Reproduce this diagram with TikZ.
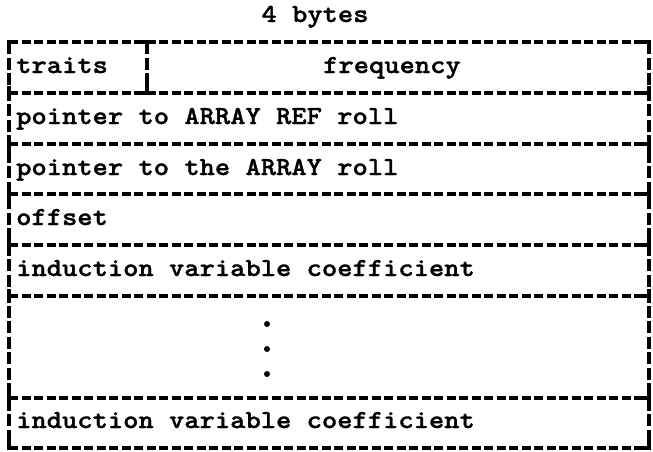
\documentclass[tikz,border=0pt]{standalone}
\usepackage{fontspec}
\newfontfamily\courfont{lmmonolt10-bold.otf}[FakeBold=1.2, FakeStretch=1.12]
\newcommand{\tw}[1]{{\courfont\fontsize{26}{28}\selectfont #1}}
\begin{document}
\begin{tikzpicture}[x=1pt,y=-1pt,
  rule/.style={line width=3.1pt, dash pattern=on 9pt off 3.5pt},
  vrule/.style={line width=3.1pt, dash pattern=on 12pt off 3.5pt},
  tick/.style={line width=3.3pt, solid},
  lbl/.style={inner sep=0pt, anchor=base west}]
\useasboundingbox (0,0) rectangle (653,451);
% horizontal rules
\foreach \y in {42,93,144,194,245,296,398,448}
  \draw[rule] (9,\y) -- (649,\y);
% vertical rules
\draw[vrule] (9,42) -- (9,448);
\draw[vrule] (649,42) -- (649,448);
\draw[vrule] (147,42) -- (147,93);
% junction ticks
\foreach \y in {93,144,194,245,296,398} {
  \draw[tick] (9,\y-7) -- (9,\y+7);
  \draw[tick] (9,\y) -- (17,\y);
  \draw[tick] (649,\y-7) -- (649,\y+7);
  \draw[tick] (641,\y) -- (649,\y);
}
\draw[tick] (9,52) -- (9,42) -- (18,42);
\draw[tick] (640,42) -- (649,42) -- (649,52);
\draw[tick] (9,438) -- (9,448) -- (18,448);
\draw[tick] (640,448) -- (649,448) -- (649,438);
\draw[tick] (139,42) -- (155,42);
\draw[tick] (147,42) -- (147,52);
\draw[tick] (139,93) -- (155,93);
\draw[tick] (147,93) -- (147,83);
% texts
\node[lbl, anchor=base] (title) at (315,22) {\tw{4 bytes}};
\node[lbl] (traits) at (16,73) {\tw{traits}};
\node[lbl] (freq) at (323,73) {\tw{frequency}};
\node[lbl] (aref) at (16,124) {\tw{pointer to ARRAY REF roll}};
\node[lbl] (arr) at (16,175) {\tw{pointer to the ARRAY roll}};
\node[lbl] (off) at (16,225) {\tw{offset}};
\node[lbl] (ind1) at (16,276) {\tw{induction variable coefficient}};
\node[lbl] (ind2) at (16,428) {\tw{induction variable coefficient}};
% dots
\foreach \y/\n in {324/d1,349/d2,374/d3}
  \fill (267,\y) circle (3pt) coordinate (\n);
\end{tikzpicture}
\end{document}
